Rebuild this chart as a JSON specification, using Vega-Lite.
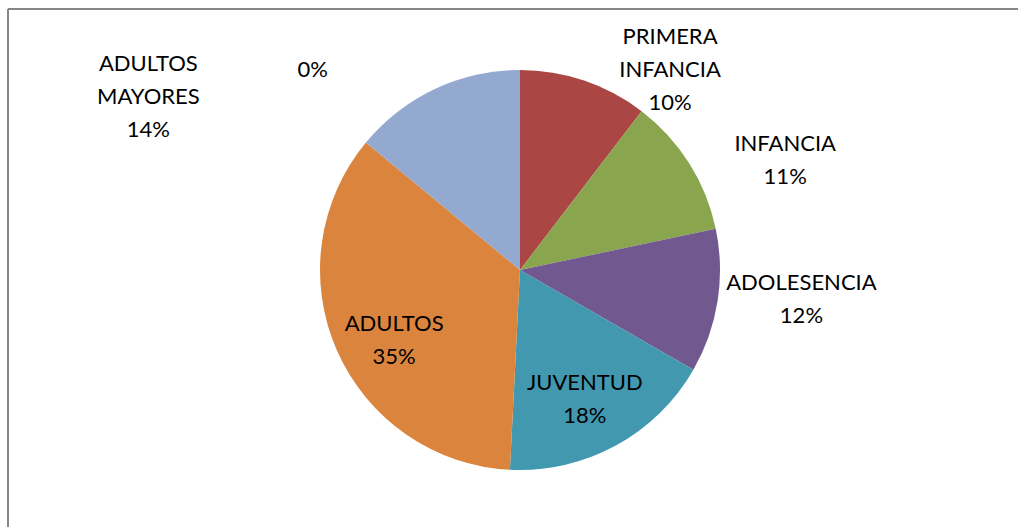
{
  "$schema": "https://vega.github.io/schema/vega-lite/v6.json",
  "width": 1010,
  "height": 518,
  "autosize": "none",
  "padding": {"left": 8, "top": 9, "right": 0, "bottom": 0},
  "background": "white",
  "config": {"view": {"stroke": "#868686", "strokeWidth": 2, "strokeDash": [1010, 1528, 518, 0]}},
  "data": {"values": [
    {"cat": "PRIMERA INFANCIA", "v": 10.4, "ord": 1, "label": "PRIMERA\nINFANCIA\n10%"},
    {"cat": "INFANCIA", "v": 11.3, "ord": 2, "label": "INFANCIA\n11%"},
    {"cat": "ADOLESENCIA", "v": 11.6, "ord": 3, "label": "ADOLESENCIA\n12%"},
    {"cat": "JUVENTUD", "v": 17.5, "ord": 4, "label": "JUVENTUD\n18%"},
    {"cat": "ADULTOS", "v": 35.2, "ord": 5, "label": "ADULTOS\n35%"},
    {"cat": "ADULTOS MAYORES", "v": 14.0, "ord": 6, "label": "ADULTOS\nMAYORES\n14%"},
    {"cat": "OTROS", "v": 0, "ord": 7, "label": "0%"}
  ]},
  "encoding": {
    "theta": {"field": "v", "type": "quantitative", "stack": true},
    "order": {"field": "ord", "type": "quantitative"},
    "x": {"value": {"expr": "width/2+7"}},
    "y": {"value": {"expr": "height/2+2"}}
  },
  "layer": [
    {
      "mark": {"type": "arc", "outerRadius": 200},
      "encoding": {
        "color": {"field": "cat", "type": "nominal", "legend": null,
          "scale": {"domain": ["PRIMERA INFANCIA", "INFANCIA", "ADOLESENCIA", "JUVENTUD", "ADULTOS", "ADULTOS MAYORES", "OTROS"],
                    "range": ["#AA4643", "#89A54E", "#71588F", "#4198AF", "#DB843D", "#93A9CF", "#B9CD96"]}}
      }
    },
    {
      "mark": {"type": "text", "radius": 250, "thetaOffset": 0.317, "dy": -33, "font": "Lato", "fontSize": 22, "lineBreak": "\n", "lineHeight": 33, "align": "center", "baseline": "middle", "color": "black"},
      "encoding": {"detail": {"field": "cat"}, "text": {"condition": {"test": "datum.cat === 'PRIMERA INFANCIA'", "field": "label"}, "value": ""}}
    },
    {
      "mark": {"type": "text", "radius": 287, "thetaOffset": 0.170, "dy": -16.5, "font": "Lato", "fontSize": 22, "lineBreak": "\n", "lineHeight": 33, "align": "center", "baseline": "middle", "color": "black"},
      "encoding": {"detail": {"field": "cat"}, "text": {"condition": {"test": "datum.cat === 'INFANCIA'", "field": "label"}, "value": ""}}
    },
    {
      "mark": {"type": "text", "radius": 283, "thetaOffset": -0.052, "dy": -16.5, "font": "Lato", "fontSize": 22, "lineBreak": "\n", "lineHeight": 33, "align": "center", "baseline": "middle", "color": "black"},
      "encoding": {"detail": {"field": "cat"}, "text": {"condition": {"test": "datum.cat === 'ADOLESENCIA'", "field": "label"}, "value": ""}}
    },
    {
      "mark": {"type": "text", "radius": 145, "thetaOffset": 0.036, "dy": -16.5, "font": "Lato", "fontSize": 22, "lineBreak": "\n", "lineHeight": 33, "align": "center", "baseline": "middle", "color": "black"},
      "encoding": {"detail": {"field": "cat"}, "text": {"condition": {"test": "datum.cat === 'JUVENTUD'", "field": "label"}, "value": ""}}
    },
    {
      "mark": {"type": "text", "radius": 144, "thetaOffset": -0.093, "dy": -16.5, "font": "Lato", "fontSize": 22, "lineBreak": "\n", "lineHeight": 33, "align": "center", "baseline": "middle", "color": "black"},
      "encoding": {"detail": {"field": "cat"}, "text": {"condition": {"test": "datum.cat === 'ADULTOS'", "field": "label"}, "value": ""}}
    },
    {
      "mark": {"type": "text", "radius": 410, "thetaOffset": -0.695, "dy": -33, "font": "Lato", "fontSize": 22, "lineBreak": "\n", "lineHeight": 33, "align": "center", "baseline": "middle", "color": "black"},
      "encoding": {"detail": {"field": "cat"}, "text": {"condition": {"test": "datum.cat === 'ADULTOS MAYORES'", "field": "label"}, "value": ""}}
    },
    {
      "mark": {"type": "text", "radius": 288, "thetaOffset": -0.803, "font": "Lato", "fontSize": 22, "lineBreak": "\n", "lineHeight": 33, "align": "center", "baseline": "middle", "color": "black"},
      "encoding": {"detail": {"field": "cat"}, "text": {"condition": {"test": "datum.cat === 'OTROS'", "field": "label"}, "value": ""}}
    }
  ]
}
